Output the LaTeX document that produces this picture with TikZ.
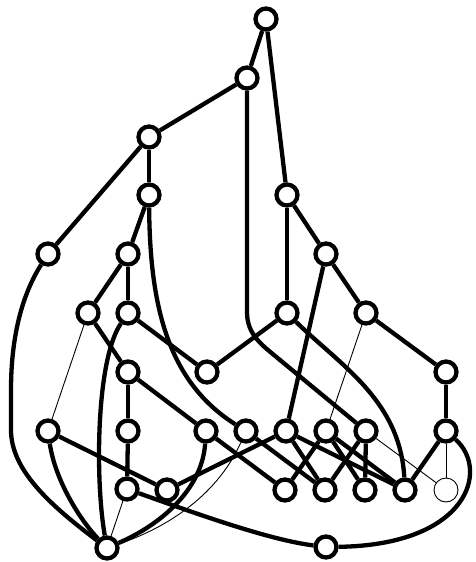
\documentclass[tikz,border=0pt]{standalone}
\begin{document}
\begin{tikzpicture}[x=1pt,y=-1pt]
\tikzset{
  vtx/.style={circle,draw,line width=4.3pt,minimum size=21pt,inner sep=0pt,fill=white},
  tvtx/.style={circle,draw,line width=0.9pt,minimum size=24pt,inner sep=0pt,fill=white},
  edge/.style={line width=4.3pt},
  thinedge/.style={line width=0.9pt}
}
\useasboundingbox (0,0) rectangle (475,562);
\node[vtx] (A) at (266,19) {};
\node[vtx] (B) at (247,78) {};
\node[vtx] (C) at (149,137) {};
\node[vtx] (D) at (149,195) {};
\node[vtx] (E) at (287,195) {};
\node[vtx] (F) at (48,254) {};
\node[vtx] (G) at (128,254) {};
\node[vtx] (H) at (326,254) {};
\node[vtx] (I) at (88,313) {};
\node[vtx] (J) at (128,313) {};
\node[vtx] (K) at (287,313) {};
\node[vtx] (L) at (366,313) {};
\node[vtx] (M) at (128,372) {};
\node[vtx] (N) at (207,372) {};
\node[vtx] (O) at (446,372) {};
\node[vtx] (P) at (48,431) {};
\node[vtx] (Q) at (128,431) {};
\node[vtx] (R) at (206,431) {};
\node[vtx] (S) at (246,431) {};
\node[vtx] (T) at (286,431) {};
\node[vtx] (U) at (326,431) {};
\node[vtx] (V) at (366,431) {};
\node[vtx] (W) at (446,431) {};
\node[vtx] (X) at (127,489) {};
\node[vtx] (Y) at (167,490) {};
\node[vtx] (Z) at (285,490) {};
\node[vtx] (AA) at (325,490) {};
\node[vtx] (AB) at (365,490) {};
\node[vtx] (AC) at (405,490) {};
\node[tvtx] (AD) at (446,490) {};
\node[vtx] (AE) at (107,548) {};
\node[vtx] (AF) at (326,547) {};
% straight thick edges
\foreach \a/\b in {A/B,A/E,B/C,C/D,C/F,D/G,E/K,E/H,G/I,G/J,H/L,H/T,I/M,J/N,N/K,L/O,O/W,M/Q,Q/X,M/R,P/Y,Y/T,R/Z,S/AA,T/AA,T/AC,U/Z,U/AB,U/AC,V/AA,V/AB,W/AC}
  \draw[edge] (\a) -- (\b);
% thin edges
\foreach \a/\b in {I/P,L/U,X/AE,V/AD,W/AD}
  \draw[thinedge] (\a) -- (\b);
% curved edges
\draw[edge] (B) -- (247,312) .. controls (247,335) and (262,345) .. (280,360) -- (V);
\draw[edge] (K) .. controls (340,365) and (400,400) .. (AC);
\draw[edge] (D) .. controls (150,300) and (165,380) .. (S);
\draw[edge] (J) .. controls (96,360) and (95,480) .. (AE);
\draw[edge] (P) .. controls (55,480) and (80,520) .. (AE);
\draw[edge] (F) .. controls (25,290) and (11,330) .. (11,390) -- (11,430) .. controls (11,470) and (50,505) .. (AE);
\draw[edge] (R) .. controls (202,490) and (160,525) .. (AE);
\draw[thinedge] (S) .. controls (215,500) and (160,530) .. (AE);
\draw[edge] (W) .. controls (490,470) and (468,545) .. (AF);
\draw[edge] (X) .. controls (200,515) and (270,540) .. (AF);
\end{tikzpicture}
\end{document}
